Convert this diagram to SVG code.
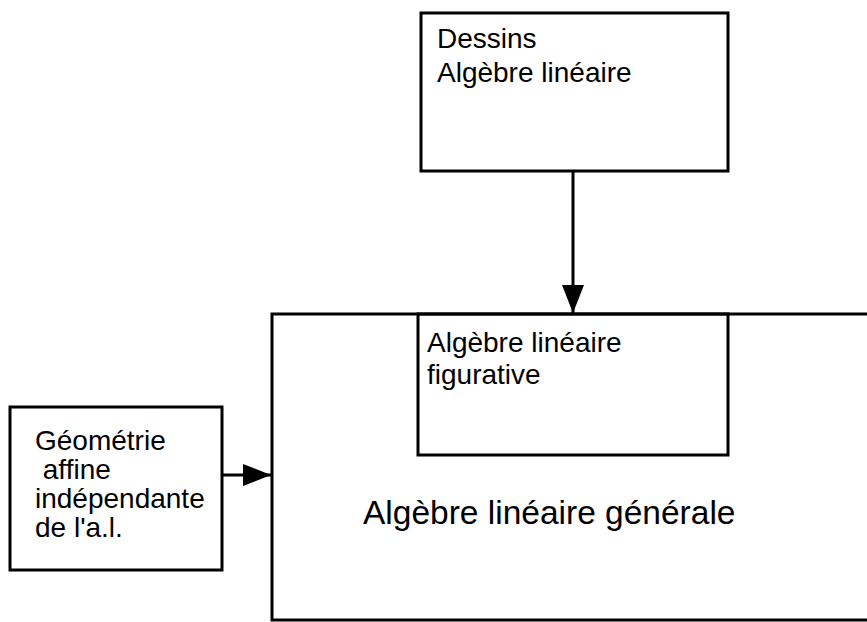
<svg xmlns="http://www.w3.org/2000/svg" width="867" height="622" viewBox="0 0 867 622">
<style>
.box{fill:none;stroke:#000;stroke-width:3}
.t{font-family:"Liberation Sans",Arial,sans-serif;font-size:28px;fill:#000;white-space:pre}
.big{font-family:"Liberation Sans",Arial,sans-serif;font-size:33.5px;fill:#000}
.c{stroke:#000;stroke-width:3;fill:none}
</style>
<defs>
<marker id="ah" markerUnits="userSpaceOnUse" markerWidth="30" markerHeight="30" refX="28" refY="11" orient="auto">
<path d="M0,0 L28,11 L0,22 Z" fill="#000"/>
</marker>
</defs>
<rect width="867" height="622" fill="#fff"/>
<g id="general">
<path class="box" d="M870,314 L272,314 L272,620 L870,620"/>
<text class="big" x="363" y="524">Algèbre linéaire générale</text>
</g>
<g id="dessins">
<rect class="box" x="421" y="13" width="307" height="158"/>
<text class="t" x="437" y="48">Dessins</text>
<text class="t" x="437" y="82">Algèbre linéaire</text>
</g>
<g id="figurative">
<rect class="box" x="418" y="314" width="310" height="141"/>
<text class="t" x="427" y="352">Algèbre linéaire</text>
<text class="t" x="427" y="384">figurative</text>
</g>
<g id="geometrie">
<rect class="box" x="10" y="407" width="212" height="163"/>
<text class="t" x="35" y="450">Géométrie</text>
<text class="t" x="35" y="479" xml:space="preserve"> affine</text>
<text class="t" x="35" y="508">indépendante</text>
<text class="t" x="35" y="537">de l'a.l.</text>
</g>
<g id="connectors">
<line class="c" x1="573" y1="171" x2="573" y2="313" marker-end="url(#ah)"/>
<line class="c" x1="222" y1="475" x2="271" y2="475" marker-end="url(#ah)"/>
</g>
</svg>
